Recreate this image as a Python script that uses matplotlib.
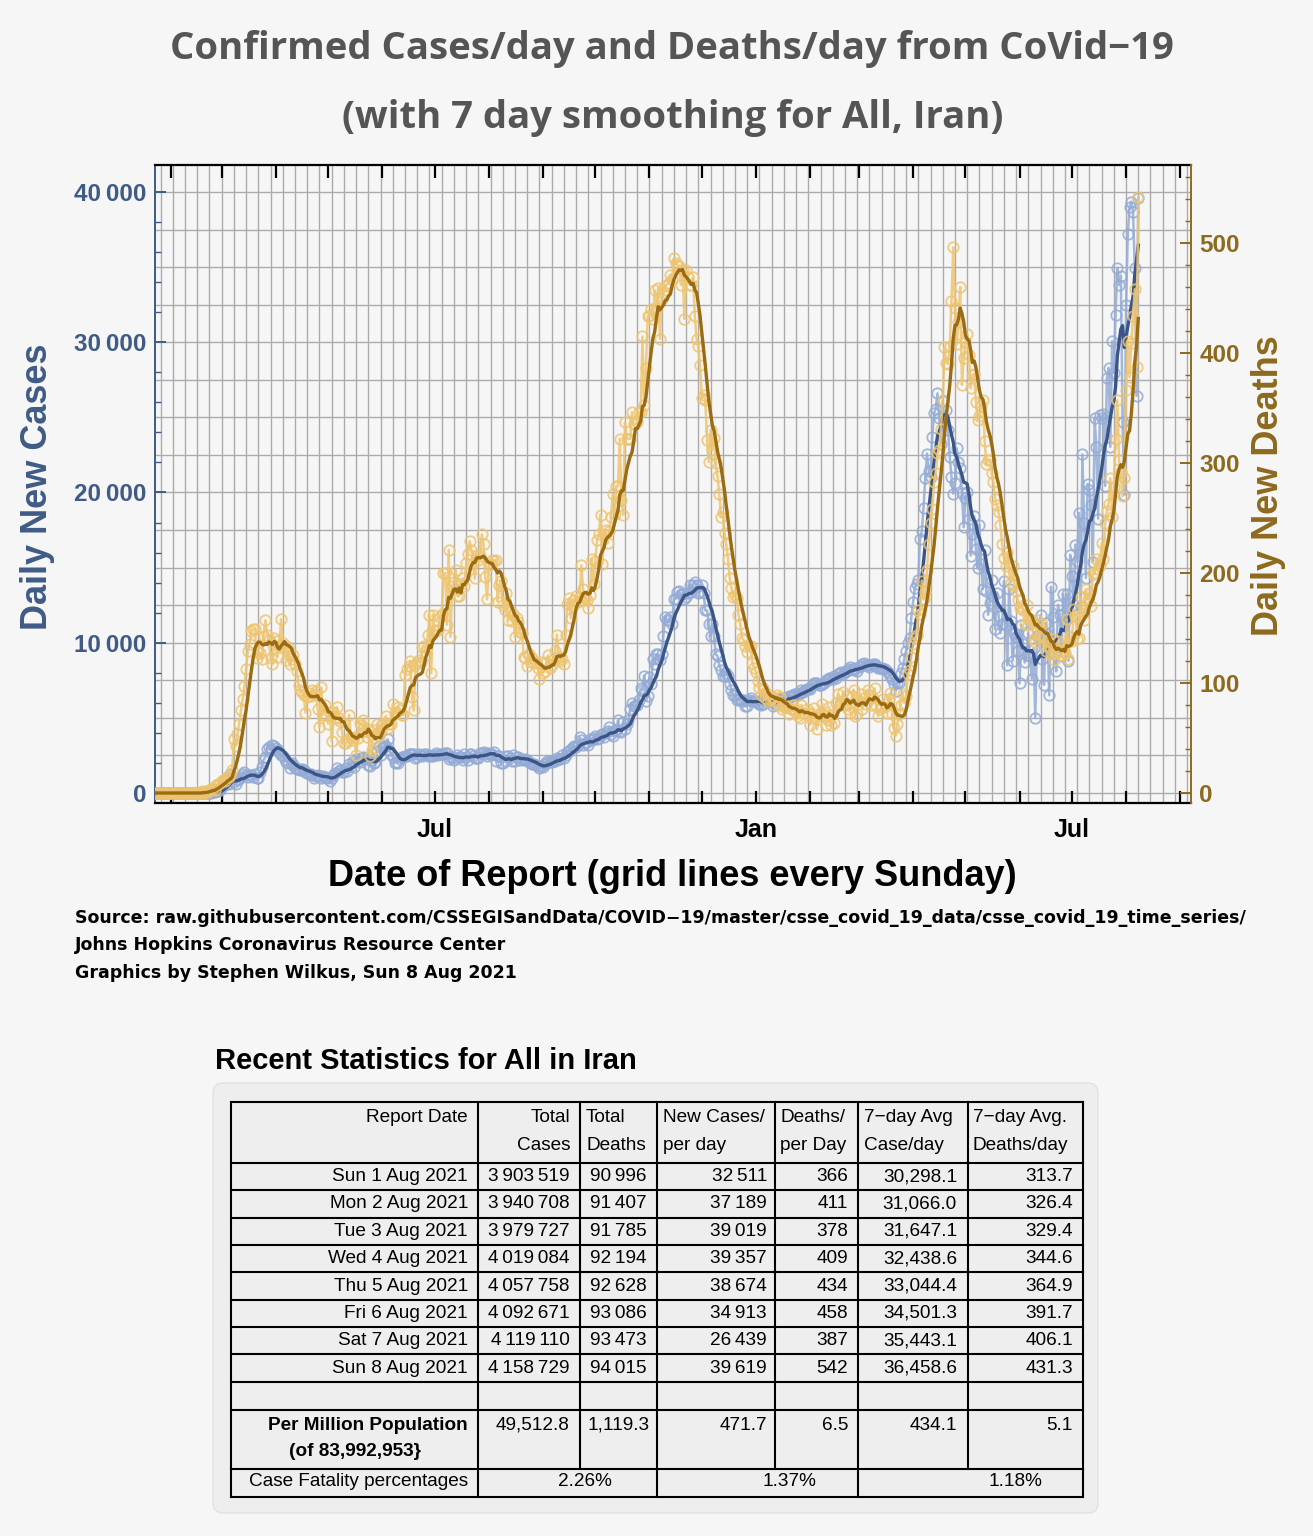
import numpy as np
import pandas as pd
import matplotlib
matplotlib.use("Agg")
import matplotlib.pyplot as plt
import matplotlib.dates as mdates
from matplotlib.ticker import FixedLocator, MultipleLocator, FuncFormatter
from matplotlib.patches import FancyBboxPatch

# ---------------- data (daily values, starting Wed 22 Jan 2020) ----------------
START_DATE = "2020-01-22"

# Jan 22 2020 - Aug 1 2020
cases_part1 = [
    0, 0, 0, 0,
    0, 0, 0, 0, 0, 0, 0,
    0, 0, 0, 0, 0, 0, 0,
    0, 0, 0, 0, 0, 0, 0,
    0, 0, 0, 2, 3, 13, 10,
    15, 18, 34, 44, 106, 143, 205,
    385, 523, 835, 586, 591, 1234, 1076,
    743, 595, 881, 958, 1075, 1289, 1365,
    1209, 1053, 1178, 1192, 1046, 1237, 966,
    1028, 1411, 1762, 2206, 2389, 2926, 3076,
    2901, 3186, 3110, 2987, 2875, 2715, 2560,
    2483, 2274, 2089, 1997, 1634, 1972, 1837,
    1657, 1617, 1574, 1512, 1606, 1499, 1374,
    1343, 1294, 1297, 1194, 1030, 1134, 1168,
    1153, 991, 1112, 1073, 993, 1006, 802,
    976, 1223, 1323, 1680, 1485, 1529, 1383,
    1383, 1683, 1481, 1958, 1808, 2102, 1757,
    2294, 2111, 2080, 2346, 2392, 2311, 2283,
    1869, 1787, 2180, 2023, 2069, 2818, 3111,
    2516, 2979, 3117, 3134, 3574, 2886, 2596,
    2364, 2011, 2095, 2011, 2238, 2410, 2369,
    2472, 2449, 2612, 2563, 2596, 2615, 2322,
    2368, 2573, 2531, 2445, 2595, 2628, 2489,
    2536, 2457, 2449, 2549, 2652, 2560, 2613,
    2566, 2613, 2637, 2691, 2262, 2397, 2388,
    2186, 2349, 2521, 2388, 2379, 2166, 2625,
    2414, 2166, 2625, 2621, 2434, 2316, 2333,
    2316, 2667, 2636, 2751, 2598, 2434, 2685,
]
# Aug 2 2020 - Jan 30 2021
cases_part2 = [
    2548, 2598, 2697, 2125, 2450, 2450, 2020,
    2020, 2125, 2450, 2444, 2349, 2133, 2502,
    2133, 2409, 2385, 2206, 2247, 2182, 2268,
    2199, 2085, 2027, 1955, 1919, 1840, 1812,
    1682, 1773, 1698, 1950, 2063, 2125, 2040,
    2063, 2153, 2145, 2329, 2264, 2292, 2553,
    2313, 2510, 2705, 2809, 2902, 3049, 3097,
    3049, 3204, 3712, 3521, 3223, 3360, 3362,
    3204, 3574, 3531, 3677, 3825, 3590, 3653,
    3875, 3902, 3712, 4019, 4142, 4392, 3956,
    3822, 4206, 4108, 4830, 4103, 4038, 4721,
    4251, 4616, 4847, 5616, 5960, 5814, 5814,
    5836, 6191, 6968, 6824, 7820, 6134, 6457,
    7719, 7230, 8932, 8604, 9236, 9236, 8880,
    9236, 10463, 11737, 11517, 11517, 11737, 11256,
    12931, 12931, 13352, 13421, 13223, 13260, 12931,
    13053, 13321, 13843, 13402, 13843, 14051, 13843,
    13321, 13402, 13843, 13321, 12151, 12151, 11256,
    10463, 11256, 10431, 9236, 9109, 8500, 8216,
    7760, 7760, 8002, 7760, 7257, 6869, 6509,
    6509, 6212, 6251, 6251, 6106, 6212, 5760,
    5797, 6222, 6339, 6125, 6135, 6131, 5960,
    5950, 5831, 5908, 6225, 6211, 6174, 6119,
    6037, 5780, 5942, 6152, 6281, 6245, 6210,
    6290, 6139, 6212, 6470, 6440, 6458, 6581,
    6586, 6552, 6656, 6873, 6741, 6873, 6950,
]
# Jan 31 2021 - Aug 8 2021
cases_part3 = [
    6950, 6927, 7218, 7300, 7291, 7318, 7220,
    7186, 7246, 7325, 7495, 7521, 7672, 7675,
    7592, 7792, 7674, 7916, 7986, 8041, 7935,
    8042, 8103, 8264, 8364, 8226, 8213, 8303,
    8122, 8405, 8458, 8567, 8640, 8510, 8495,
    8389, 8510, 8567, 8617, 8449, 8322, 8350,
    8299, 8240, 8256, 8121, 8001, 7808, 7588,
    7246, 6800, 7290, 7350, 8004, 8311, 8911,
    9462, 9991, 10330, 11680, 12700, 13650, 13890,
    14200, 16900, 17430, 19000, 20940, 22590, 21440,
    21060, 23700, 25260, 25580, 26600, 24980, 23260,
    26070, 24520, 25490, 24130, 22380, 21060, 19920,
    20600, 22960, 22040, 21640, 19940, 17690, 19660,
    20010, 18250, 15800, 17220, 18430, 16210, 14960,
    17870, 15240, 13580, 16150, 13450, 11870, 12640,
    14150, 13090, 10900, 13330, 11800, 10640, 11250,
    14100, 11180, 8500, 13600, 11420, 8800, 10620,
    10400, 9470, 7300, 11180, 9920, 8690, 9200,
    10640, 9140, 7600, 9620, 5000, 10480, 10490,
    11840, 8900, 7200, 11320, 10610, 6500, 13720,
    11730, 9300, 8100, 12530, 11870, 9110, 13230,
    11450, 13250, 8800, 15850, 14410, 12480, 16530,
    15420, 18640, 12390, 22530, 17960, 14320, 20570,
    20180, 19150, 15400, 24960, 23000, 18260, 25130,
    24930, 25220, 20440, 27590, 28300, 23040, 30060,
    27960, 31814, 34951, 33817, 34433, 24715, 19846,
    32511, 37189, 39019, 39357, 38674, 34913, 26439,
    39619,
]

deaths_part1 = [
    0, 0, 0, 0,
    0, 0, 0, 0, 0, 0, 0,
    0, 0, 0, 0, 0, 0, 0,
    0, 0, 0, 0, 0, 0, 0,
    0, 0, 0, 2, 0, 2, 1,
    3, 4, 4, 3, 7, 8, 9,
    11, 12, 11, 15, 15, 16, 21,
    49, 43, 54, 63, 75, 85, 97,
    113, 129, 135, 147, 149, 149, 123,
    129, 127, 122, 143, 157, 144, 139,
    123, 117, 141, 138, 124, 134, 158,
    136, 133, 121, 133, 117, 122, 125,
    117, 111, 98, 94, 92, 89, 73,
    87, 91, 88, 94, 90, 93, 76,
    60, 96, 71, 80, 71, 63, 74,
    47, 74, 68, 78, 68, 65, 55,
    45, 45, 48, 71, 50, 48, 51,
    35, 50, 64, 62, 66, 56, 51,
    58, 34, 39, 57, 50, 63, 52,
    57, 63, 64, 70, 59, 63, 63,
    81, 72, 74, 78, 75, 71, 71,
    107, 113, 115, 120, 87, 75, 116,
    119, 121, 119, 133, 134, 125, 144,
    162, 109, 162, 147, 148, 148, 160,
    163, 200, 200, 153, 221, 142, 188,
    192, 203, 179, 179, 190, 195, 188,
    209, 217, 229, 221, 208, 195, 216,
    212, 215, 235, 226, 196, 176, 207,
]
deaths_part2 = [
    208, 212, 211, 212, 174, 189, 193,
    171, 166, 182, 157, 165, 156, 163,
    142, 159, 155, 146, 145, 124, 123,
    115, 126, 119, 123, 118, 119, 114,
    104, 119, 109, 111, 119, 125, 114,
    116, 121, 129, 144, 124, 120, 122,
    117, 144, 172, 177, 159, 170, 175,
    179, 174, 178, 207, 185, 178, 175,
    168, 180, 213, 190, 211, 230, 235,
    253, 208, 235, 239, 227, 238, 251,
    272, 254, 279, 279, 322, 266, 253,
    337, 322, 322, 322, 346, 335, 335,
    337, 346, 346, 415, 353, 386, 434,
    434, 440, 431, 457, 440, 459, 413,
    449, 455, 461, 462, 464, 471, 467,
    486, 482, 480, 479, 462, 475, 431,
    475, 469, 462, 462, 469, 434, 413,
    406, 389, 359, 362, 357, 321, 301,
    330, 312, 323, 300, 288, 272, 251,
    255, 236, 226, 213, 195, 186, 178,
    180, 177, 162, 154, 141, 139, 134,
    128, 134, 134, 118, 114, 110, 102,
    95, 89, 95, 86, 91, 84, 85,
    86, 87, 84, 89, 80, 87, 76,
    78, 78, 79, 72, 76, 80, 76,
    73, 70, 68, 80, 73, 72, 76,
]
deaths_part3 = [
    73, 62, 68, 77, 68, 58, 72,
    73, 81, 71, 62, 66, 78, 62,
    72, 64, 82, 90, 80, 83, 92,
    80, 88, 76, 73, 88, 94, 70,
    72, 84, 90, 76, 86, 81, 94,
    89, 80, 86, 95, 79, 70, 76,
    78, 85, 81, 73, 85, 91, 72,
    59, 52, 63, 72, 80, 90, 82,
    88, 108, 112, 124, 135, 141, 144,
    166, 163, 193, 176, 183, 203, 226,
    245, 258, 283, 291, 309, 312, 331,
    357, 405, 391, 390, 406, 447, 496,
    441, 408, 428, 460, 371, 395, 410,
    417, 398, 368, 380, 381, 355, 339,
    343, 352, 357, 320, 299, 303, 303,
    291, 283, 267, 262, 255, 244, 226,
    214, 206, 219, 201, 191, 206, 189,
    184, 175, 168, 170, 166, 154, 171,
    153, 158, 156, 140, 137, 157, 153,
    143, 154, 143, 129, 138, 132, 126,
    140, 121, 127, 138, 129, 125, 134,
    127, 158, 122, 142, 138, 167, 161,
    140, 141, 178, 163, 157, 185, 176,
    182, 170, 200, 199, 213, 204, 207,
    227, 213, 245, 256, 263, 286, 251,
    278, 322, 357, 303, 292, 270, 286,
    366, 411, 378, 409, 434, 458, 387,
    542,
]

# ---------------- table data ----------------
report_dates = ["Sun 1 Aug 2021", "Mon 2 Aug 2021", "Tue 3 Aug 2021", "Wed 4 Aug 2021",
                "Thu 5 Aug 2021", "Fri 6 Aug 2021", "Sat 7 Aug 2021", "Sun 8 Aug 2021"]
total_cases = ["3\u2009903\u2009519", "3\u2009940\u2009708", "3\u2009979\u2009727", "4\u2009019\u2009084",
               "4\u2009057\u2009758", "4\u2009092\u2009671", "4\u2009119\u2009110", "4\u2009158\u2009729"]
total_deaths = ["90\u2009996", "91\u2009407", "91\u2009785", "92\u2009194",
                "92\u2009628", "93\u2009086", "93\u2009473", "94\u2009015"]
new_cases = ["32\u2009511", "37\u2009189", "39\u2009019", "39\u2009357",
             "38\u2009674", "34\u2009913", "26\u2009439", "39\u2009619"]
new_deaths = ["366", "411", "378", "409", "434", "458", "387", "542"]
avg_cases = ["30,298.1", "31,066.0", "31,647.1", "32,438.6", "33,044.4", "34,501.3", "35,443.1", "36,458.6"]
avg_deaths = ["313.7", "326.4", "329.4", "344.6", "364.9", "391.7", "406.1", "431.3"]
per_million = ["49,512.8", "1,119.3", "471.7", "6.5", "434.1", "5.1"]
fatality_pct = ["2.26%", "1.37%", "1.18%"]
header_lines = [("Report Date", ""), ("Total", "Cases"), ("Total", "Deaths"),
                ("New Cases/", "per day"), ("Deaths/", "per Day"),
                ("7\u2212day Avg", "Case/day"), ("7\u2212day Avg.", "Deaths/day")]

# ---------------- styling ----------------
W, H = 1313, 1536
BG = "#f6f6f6"
C_AX = "#3f5b86"
D_AX = "#8d6a1d"
C_RAW = "#93abd6"
D_RAW = "#eec46f"
C_SM = "#3a5586"
D_SM = "#9b6b12"
SANS = ["Liberation Sans", "DejaVu Sans"]

cases = np.array(cases_part1 + cases_part2 + cases_part3, dtype=float)
deaths = np.array(deaths_part1 + deaths_part2 + deaths_part3, dtype=float)
dates = pd.date_range(START_DATE, periods=len(cases), freq="D")
cases_sm = pd.Series(cases).rolling(7, min_periods=1).mean().values
deaths_sm = pd.Series(deaths).rolling(7, min_periods=1).mean().values

fig = plt.figure(figsize=(W / 100, H / 100), dpi=100, facecolor=BG)

def fx(x):
    return x / W

def fy(y):
    return 1 - y / H

ax = fig.add_axes([fx(155), fy(803), fx(1191) - fx(155), fy(165) - fy(803)])
ax.set_facecolor(BG)
ax2 = ax.twinx()

x0 = mdates.date2num(pd.Timestamp(START_DATE)) + 0.8
x1 = mdates.date2num(pd.Timestamp(START_DATE)) + 594.2
ax.set_xlim(x0, x1)
ax.set_ylim(-665.6, 41797)
ax2.set_ylim(-9.09, 570.9)

# grid: every Sunday, every 2500 cases
sundays = pd.date_range("2020-01-26", "2021-09-05", freq="7D")
for s in sundays:
    ax.axvline(mdates.date2num(s), color="#ababab", lw=1.0, zorder=0)
for yv in np.arange(0, 42000, 2500):
    ax.axhline(yv, color="#ababab", lw=1.0, zorder=0)

xd = mdates.date2num(dates)
ax.plot(xd, cases, color=C_RAW, lw=1.8, alpha=0.85, marker="o", ms=7.5,
        mfc="none", mec=C_RAW, mew=1.3, zorder=2)
ax.plot(xd, cases_sm, color=C_SM, lw=2.4, zorder=3)
ax2.plot(xd, deaths, color=D_RAW, lw=1.8, alpha=0.85, marker="o", ms=7.5,
         mfc="none", mec=D_RAW, mew=1.3, zorder=2)
ax2.plot(xd, deaths_sm, color=D_SM, lw=2.4, zorder=3)

# x ticks at month starts
months = pd.date_range("2020-02-01", "2021-09-01", freq="MS")
ax.xaxis.set_major_locator(FixedLocator(mdates.date2num(months)))
ax.xaxis.set_major_formatter(FuncFormatter(
    lambda v, p: {1: "Jan", 7: "Jul"}.get(mdates.num2date(v).month, "")))
ax.tick_params(axis="x", which="major", direction="in", length=9, width=1.6,
               color="black", top=True, bottom=True, labelsize=18, pad=11,
               labelcolor="black")
for lab in ax.get_xticklabels():
    lab.set_fontweight("bold")
    lab.set_family(SANS)

# left axis
ax.yaxis.set_major_locator(MultipleLocator(10000))
ax.yaxis.set_minor_locator(MultipleLocator(2000))
ax.yaxis.set_major_formatter(FuncFormatter(
    lambda v, p: f"{int(round(v)):,}".replace(",", "\u2009")))
ax.tick_params(axis="y", which="major", direction="in", length=8, width=1.4,
               color=C_AX, labelcolor=C_AX, labelsize=17.5, pad=6)
ax.tick_params(axis="y", which="minor", direction="in", length=4, width=1.0, color=C_AX)
for lab in ax.get_yticklabels():
    lab.set_fontweight("bold")
    lab.set_family(SANS)

# right axis
ax2.yaxis.set_major_locator(MultipleLocator(100))
ax2.yaxis.set_minor_locator(MultipleLocator(20))
ax2.yaxis.set_major_formatter(FuncFormatter(lambda v, p: f"{int(round(v))}"))
ax2.tick_params(axis="y", which="major", direction="in", length=8, width=1.4,
                color=D_AX, labelcolor=D_AX, labelsize=17.5, pad=6)
ax2.tick_params(axis="y", which="minor", direction="in", length=4, width=1.0, color=D_AX)
for lab in ax2.get_yticklabels():
    lab.set_fontweight("bold")
    lab.set_family(SANS)

for sp in ["top", "bottom"]:
    ax.spines[sp].set_color("black")
    ax.spines[sp].set_linewidth(1.6)
    ax2.spines[sp].set_visible(False)
ax.spines["left"].set_color(C_AX)
ax.spines["left"].set_linewidth(1.4)
ax.spines["right"].set_visible(False)
ax2.spines["left"].set_visible(False)
ax2.spines["right"].set_color(D_AX)
ax2.spines["right"].set_linewidth(1.4)

# titles & labels
fig.text(fx(672), fy(49), "Confirmed Cases/day and Deaths/day from CoVid\u221219",
         ha="center", va="center", fontsize=27.5, fontweight="bold", color="#555555",
         family=["Open Sans", "DejaVu Sans"])
fig.text(fx(673), fy(118), "(with 7 day smoothing for All, Iran)",
         ha="center", va="center", fontsize=27.5, fontweight="bold", color="#555555",
         family=["Open Sans", "DejaVu Sans"])
fig.text(fx(38), fy(487), "Daily New Cases", rotation=90, ha="center", va="center",
         fontsize=26, fontweight="bold", color=C_AX, family=SANS)
fig.text(fx(1268), fy(486), "Daily New Deaths", rotation=90, ha="center", va="center",
         fontsize=26, fontweight="bold", color=D_AX, family=SANS)
fig.text(fx(672), fy(876), "Date of Report (grid lines every Sunday)", ha="center",
         va="center", fontsize=26, fontweight="bold", color="black", family=SANS)
src_lines = ["Source: raw.githubusercontent.com/CSSEGISandData/COVID\u221219/master/csse_covid_19_data/csse_covid_19_time_series/",
             "Johns Hopkins Coronavirus Resource Center",
             "Graphics by Stephen Wilkus, Sun 8 Aug 2021"]
for i, t in enumerate(src_lines):
    fig.text(fx(75), fy(918 + 27.5 * i), t, ha="left", va="center", fontsize=12.5,
             fontweight="bold", color="black", family=["DejaVu Sans"])

# ---------------- table ----------------
tax = fig.add_axes([0, 0, 1, 1], facecolor="none")
tax.set_xlim(0, W)
tax.set_ylim(H, 0)
tax.axis("off")

tax.text(215, 1061, "Recent Statistics for All in Iran", ha="left", va="center",
         fontsize=21, fontweight="bold", color="black", family=SANS)
panel = FancyBboxPatch((213, 1083), 885, 430, boxstyle="round,pad=0,rounding_size=10",
                       facecolor="#eeeeee", edgecolor="#e2e2e2", lw=1.0)
tax.add_patch(panel)

col_x = [231, 478, 580, 657, 775, 858, 968, 1083]
row_y = [1102, 1163, 1190, 1218, 1245, 1272, 1300, 1327, 1354, 1382, 1410, 1469, 1497]
LW = 1.5
for y in row_y:
    tax.plot([col_x[0], col_x[-1]], [y, y], color="black", lw=LW, solid_capstyle="projecting")
for x in col_x:
    tax.plot([x, x], [row_y[0], row_y[-2]], color="black", lw=LW)
for x in [231, 478, 657, 858, 1083]:
    tax.plot([x, x], [row_y[-2], row_y[-1]], color="black", lw=LW)

TF = dict(fontsize=13.7, color="black", family=SANS, va="center")
hdr_x = [(468, "right"), (570, "right"), (586, "left"), (663, "left"), (780, "left"),
         (864, "left"), (973, "left")]
for (xx, al), (l1, l2) in zip(hdr_x, header_lines):
    tax.text(xx, 1118, l1, ha=al, **TF)
    if l2:
        tax.text(xx, 1146, l2, ha=al, **TF)
right_x = [468, 570, 647, 767, 848, 957, 1073]
for i in range(len(report_dates)):
    yc = 1176.5 + 27.4 * i
    vals = [report_dates[i], total_cases[i], total_deaths[i], new_cases[i],
            new_deaths[i], avg_cases[i], avg_deaths[i]]
    for xx, v in zip(right_x, vals):
        tax.text(xx, yc, v, ha="right", **TF)
tax.text(468, 1425, "Per Million Population", ha="right", fontweight="bold", **TF)
tax.text(355, 1452, "(of 83,992,953}", ha="center", fontweight="bold", **TF)
pm_x = [570, 650, 767, 848, 957, 1073]
for xx, v in zip(pm_x, per_million):
    tax.text(xx, 1425, v, ha="right", **TF)
tax.text(468, 1482, "Case Fatality percentages", ha="right", **TF)
for xx, v in zip([585, 789, 1015], fatality_pct):
    tax.text(xx, 1482, v, ha="center", **TF)

fig.savefig("out.png", dpi=100, facecolor=BG)
